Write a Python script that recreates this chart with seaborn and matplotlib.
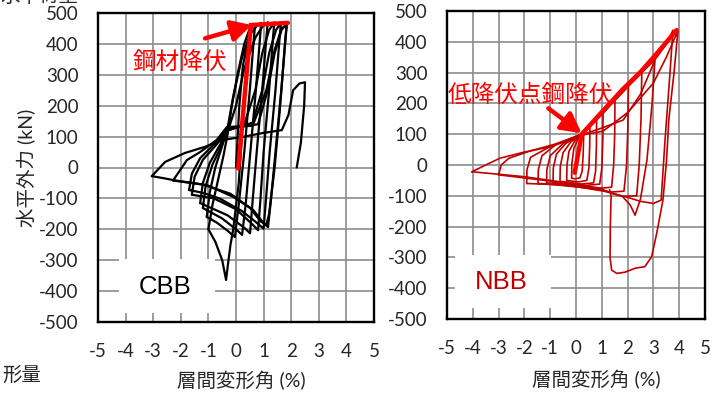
import pandas as pd
import matplotlib
matplotlib.use('Agg')
import matplotlib.pyplot as plt
from matplotlib.patches import Rectangle
import seaborn as sns

# CBB specimen: hysteresis cycles, (drift %, force kN)
cbb_cycles = [
    [(0, 0), (0.05, 80), (0.12, 200), (0.25, 330), (0.43, 406), (0.38, 330), (0.25, 150), (0.1, -50),
     (-0.1, -200), (-0.2, -250), (-0.3, -320), (-0.36, -364), (-0.5, -300), (-0.75, -240), (-1.0, -200)],
    [(-1.0, -200), (-0.85, -120), (-0.65, -40), (-0.45, 40), (-0.3, 110), (-0.15, 200), (0.05, 300), (0.3, 400),
     (0.5, 450), (0.69, 462), (0.65, 420), (0.5, 250), (0.3, 50), (0.1, -120), (-0.04, -225), (-0.3, -205),
     (-0.7, -178), (-1.06, -160)],
    [(-1.06, -160), (-0.95, -80), (-0.75, 0), (-0.5, 70), (-0.3, 130), (-0.1, 230), (0.2, 350), (0.5, 430),
     (0.75, 458), (0.91, 468), (0.87, 420), (0.72, 250), (0.52, 50), (0.35, -120), (0.22, -218), (0.0, -200),
     (-0.5, -165), (-1.2, -131)],
    [(-1.2, -131), (-1.1, -60), (-0.85, 10), (-0.5, 75), (-0.25, 130), (0.0, 200), (0.3, 320), (0.7, 420),
     (0.95, 455), (1.15, 470), (1.1, 420), (0.95, 250), (0.75, 50), (0.6, -110), (0.51, -213), (0.3, -195),
     (-0.3, -155), (-1.3, -115)],
    [(-1.3, -115), (-1.2, -50), (-0.95, 15), (-0.6, 70), (-0.3, 120), (0.3, 140), (0.7, 250), (0.95, 370),
     (1.2, 445), (1.39, 470), (1.34, 420), (1.2, 250), (1.0, 50), (0.88, -110), (0.8, -203), (0.55, -180),
     (0.0, -135), (-0.8, -100), (-1.6, -88)],
    [(-1.6, -88), (-1.5, -30), (-1.2, 25), (-0.7, 75), (-0.3, 120), (0.6, 145), (0.95, 250), (1.2, 370),
     (1.45, 445), (1.63, 468), (1.58, 420), (1.43, 250), (1.22, 50), (1.08, -110), (1.0, -198), (0.7, -175),
     (0.2, -140), (-0.6, -100), (-1.2, -82), (-1.7, -73)],
    [(-1.7, -73), (-1.6, -20), (-1.3, 30), (-0.8, 75), (-0.3, 125), (0.8, 140), (1.15, 250), (1.4, 370),
     (1.65, 445), (1.84, 465), (1.79, 420), (1.64, 250), (1.43, 50), (1.26, -110), (1.16, -193), (1.0, -180),
     (0.62, -137), (-0.1, -95), (-1.05, -57), (-1.8, -48), (-2.28, -42)],
    [(-2.28, -42), (-1.96, 0), (-1.78, 24), (-1.3, 50), (-0.7, 89), (-0.33, 131), (0.6, 135), (1.1, 250),
     (1.4, 380), (1.65, 450), (1.84, 462), (1.78, 400), (1.6, 200), (1.4, 0), (1.2, -150), (1.1, -185),
     (0.9, -175), (0.5, -130), (-0.2, -85), (-1.2, -55), (-2.2, -42), (-2.6, -35), (-3.05, -28)],
    [(-3.05, -28), (-2.57, 18), (-1.85, 47), (-1.12, 67), (-0.5, 89), (0.3, 100), (1.0, 112), (1.66, 121),
     (1.9, 170), (2.07, 250), (2.3, 272), (2.5, 276), (2.47, 200), (2.35, 80), (2.2, 0)],
]

# NBB specimen
nbb_cycles = [
    [(0, 0), (0.1, 55), (0.22, 95), (0.3, 105), (0.28, 40), (0.24, -20), (0.15, -42), (-0.05, -45), (-0.17, -42)],
    [(-0.17, -42), (-0.16, 5), (-0.08, 55), (0.1, 88), (0.22, 100), (0.4, 112), (0.54, 125), (0.53, 60),
     (0.5, -10), (0.42, -50), (0.1, -55), (-0.2, -52), (-0.36, -50)],
    [(-0.36, -50), (-0.35, 0), (-0.27, 45), (-0.05, 78), (0.22, 100), (0.54, 125), (0.8, 148), (0.79, 60),
     (0.76, -20), (0.68, -58), (0.2, -62), (-0.3, -56), (-0.62, -53)],
    [(-0.62, -53), (-0.61, -5), (-0.5, 40), (-0.2, 75), (0.22, 100), (0.6, 130), (1.05, 170), (1.04, 80),
     (1.0, -10), (0.92, -62), (0.4, -66), (-0.3, -60), (-0.89, -56)],
    [(-0.89, -56), (-0.88, -10), (-0.76, 35), (-0.4, 70), (0.22, 100), (0.7, 138), (1.05, 168), (1.51, 212),
     (1.5, 100), (1.46, 0), (1.38, -72), (1.0, -75), (0.2, -68), (-0.5, -62), (-1.14, -58)],
    [(-1.14, -58), (-1.13, -15), (-1.0, 30), (-0.5, 70), (0.22, 100), (1.0, 168), (1.51, 210), (2.03, 258),
     (2.01, 120), (1.96, 0), (1.86, -85), (1.3, -88), (0.3, -74), (-0.7, -64), (-1.47, -60)],
    [(-1.47, -60), (-1.46, -15), (-1.32, 30), (-0.8, 65), (0.22, 100), (1.0, 165), (2.03, 256), (2.55, 300),
     (2.52, 150), (2.45, 0), (2.35, -100), (1.8, -102), (1.0, -82), (0.0, -70), (-1.0, -63), (-1.91, -60)],
    [(-1.91, -60), (-1.9, -15), (-1.76, 25), (-1.0, 60), (0.22, 98), (1.0, 120), (1.83, 146), (2.5, 230),
     (3.06, 340), (2.95, 200), (2.75, 16), (2.5, -110), (2.29, -163), (2.1, -130), (1.8, -102), (1.0, -80),
     (0.0, -66), (-1.0, -52), (-2.0, -42), (-3.0, -32)],
    [(-3.0, -32), (-2.9, 0), (-2.6, 22), (-1.8, 45), (-0.8, 68), (0.22, 100), (1.0, 168), (2.03, 256),
     (2.55, 300), (3.06, 342), (3.5, 392), (3.76, 438), (3.6, 250), (3.45, 80), (3.3, -114), (3.0, -125),
     (2.5, -118), (2.0, -105), (1.4, -92), (0.9, -76), (0.0, -62), (-1.0, -50), (-2.0, -38), (-3.0, -30),
     (-4.04, -22)],
    [(-4.04, -22), (-3.5, 0), (-2.95, 22), (-2.0, 42), (-1.0, 59), (0.22, 97), (1.05, 110), (2.0, 170),
     (3.0, 266), (3.5, 350), (3.95, 436), (3.8, 300), (3.6, 150), (3.51, 16), (3.37, -114), (3.13, -221),
     (2.93, -298), (2.67, -330), (2.3, -335), (1.9, -348), (1.58, -352), (1.38, -341), (1.32, -300),
     (1.33, -200), (1.36, -100), (1.3, -80)],
]

# red yield marker lines
cbb_yield = [(0.08, -3), (0.54, 461), (1.88, 468)]
nbb_yield = [(-0.05, -25), (0.22, 100), (1.0, 172), (1.8, 245), (2.5, 302), (3.13, 362), (3.9, 438)]

x_ticks = list(range(-5, 6))
y_ticks = list(range(-500, 501, 100))


def to_frame(cycles):
    rows = []
    for i, cyc in enumerate(cycles):
        for x, y in cyc:
            rows.append({'cycle': i, 'drift': x, 'force': y})
    return pd.DataFrame(rows)


def style_axes(ax, ypad):
    ax.set_xlim(-5, 5)
    ax.set_ylim(-500, 500)
    ax.set_xticks(x_ticks)
    ax.set_yticks(y_ticks)
    ax.grid(True, color='#8c8c8c', lw=1.2)
    ax.set_axisbelow(True)
    for s in ax.spines.values():
        s.set_visible(True)
        s.set_color('black')
        s.set_linewidth(1.7)
    ax.tick_params(direction='in', length=7, width=1.2, color='black', labelsize=13.5)
    ax.tick_params(axis='x', pad=15)
    ax.tick_params(axis='y', pad=ypad)


sns.set_style('white')
plt.rcParams['font.family'] = ['Lato', 'Noto Sans CJK JP']
plt.rcParams['axes.unicode_minus'] = False

fig = plt.figure(figsize=(7.2, 3.95), dpi=100)
ax1 = fig.add_axes([98 / 720, 1 - 322 / 395, 276 / 720, 309 / 395])
ax2 = fig.add_axes([447 / 720, 1 - 319 / 395, 258 / 720, 308 / 395])

# left: CBB
style_axes(ax1, 14)
ax1.add_patch(Rectangle((-4.24, -471), 3.48, 175, facecolor='white', edgecolor='none', zorder=1.5))
sns.lineplot(data=to_frame(cbb_cycles), x='drift', y='force', units='cycle', estimator=None,
             sort=False, color='black', lw=1.6, ax=ax1, zorder=2)
yx, yy = zip(*cbb_yield)
ax1.plot(yx, yy, color='#FF0000', lw=3.2, solid_joinstyle='miter', zorder=3)
ax1.annotate('', xy=(0.57, 461), xytext=(-1.12, 418),
             arrowprops=dict(arrowstyle='-|>,head_length=0.6,head_width=0.32', color='#FF0000',
                             lw=3.2, mutation_scale=20, shrinkA=0, shrinkB=0), zorder=4)
ax1.text(-2.05, 341, '鋼材降伏', color='#FF0000', fontsize=17, ha='center', va='center',
         family=['Noto Sans CJK JP'])
ax1.text(-2.57, -387, 'CBB', color='black', fontsize=18.5, ha='center', va='center',
         family=['Liberation Sans'], zorder=3)
ax1.set_xlabel('層間変形角 (%)', fontsize=14)
ax1.set_ylabel('水平外力 (kN)', fontsize=14)
ax1.xaxis.set_label_coords(0.518, -0.16)
ax1.yaxis.set_label_coords(-0.225, 0.5)

# right: NBB
style_axes(ax2, 14)
ax2.add_patch(Rectangle((-4.69, -464), 3.72, 172, facecolor='white', edgecolor='none', zorder=1.5))
sns.lineplot(data=to_frame(nbb_cycles), x='drift', y='force', units='cycle', estimator=None,
             sort=False, color='#C00000', lw=1.2, ax=ax2, zorder=2)
nx, ny = zip(*nbb_yield)
ax2.plot(nx, ny, color='#FF0000', lw=3.2, solid_joinstyle='round', zorder=3)
ax2.annotate('', xy=(0.22, 103), xytext=(-1.07, 184),
             arrowprops=dict(arrowstyle='-|>,head_length=0.6,head_width=0.32', color='#FF0000',
                             lw=3.2, mutation_scale=20, shrinkA=0, shrinkB=0), zorder=4)
ax2.text(-1.76, 227, '低降伏点鋼降伏', color='#FF0000', fontsize=17, ha='center', va='center',
         family=['Noto Sans CJK JP'])
ax2.text(-2.88, -379, 'NBB', color='#C00000', fontsize=18.5, ha='center', va='center',
         family=['Liberation Sans'], zorder=3)
ax2.set_xlabel('層間変形角 (%)', fontsize=14)
ax2.set_ylabel('')
ax2.xaxis.set_label_coords(0.58, -0.166)

# text fragments at the edges of the original picture
fig.text(0.0, 1.012, '水平荷重', fontsize=14, ha='left', va='center')
fig.text(2 / 720, 1 - 375 / 395, '形量', fontsize=14, ha='left', va='center')

fig.savefig('out.png', dpi=100)
